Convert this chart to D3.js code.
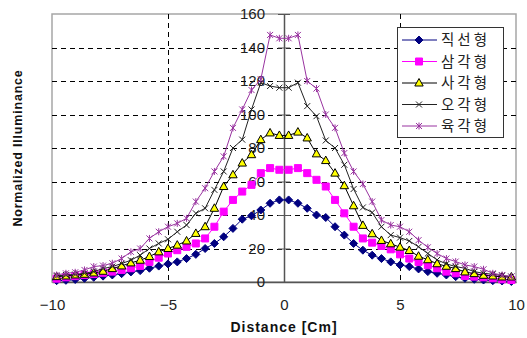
<!DOCTYPE html>
<html>
<head>
<meta charset="utf-8">
<script src="https://cdn.jsdelivr.net/npm/d3@7"></script>
<style>
  body { margin: 0; background: #fff; }
  svg { display: block; }
</style>
</head>
<body>
<svg id="chart" width="527" height="338"></svg>
<script>
// Distance [cm] of every measured point
const distance = [-9.8, -9.4, -9.0, -8.6, -8.2, -7.8, -7.4, -7.0, -6.6, -6.2,
  -5.8, -5.4, -5.0, -4.6, -4.2, -3.8, -3.4, -3.0, -2.6, -2.2,
  -1.8, -1.4, -1.0, -0.6, -0.2, 0.2, 0.6, 1.0, 1.4, 1.8,
  2.2, 2.6, 3.0, 3.4, 3.8, 4.2, 4.6, 5.0, 5.4, 5.8,
  6.2, 6.6, 7.0, 7.4, 7.8, 8.2, 8.6, 9.0, 9.4, 9.8];

const straight = [0.8, 1.0, 1.5, 2.2, 2.8, 3.5, 4.2, 5.0, 6.0, 6.8,
  8.2, 9.5, 10.8, 12, 14, 16.5, 20, 23, 27, 32,
  37.5, 39.5, 43, 47, 49, 49, 47, 44, 40, 38.5,
  33, 28, 23, 19, 16, 14, 12, 10.2, 9.2, 7.8,
  6.2, 5.2, 4.2, 3.2, 2.2, 1.6, 1.2, 0.8, 0.6, 0.3];

const triangle = [2, 2.8, 3.5, 4.2, 4.8, 5.5, 6.2, 7.2, 8.2, 9.6,
  12, 14.5, 17, 19, 21, 23, 26, 33, 42, 49,
  54, 58, 65, 68, 67, 67, 68, 65, 61, 57,
  49, 41, 33, 26, 23.5, 21.5, 19.5, 16.5, 14, 12,
  10, 8.2, 6.2, 5.2, 3.6, 3.2, 2.8, 2.2, 1.6, 1.2];

const square = [3.2, 3.6, 4.2, 4.6, 5.4, 6.4, 8, 9.6, 11.4, 13,
  15.2, 18, 20, 22, 24.5, 29, 33, 44, 57, 64,
  71, 76, 85, 89, 87.5, 87.5, 89.5, 86, 76.5, 72.5,
  65, 57.5, 45.5, 33.8, 28.8, 24.8, 22.8, 20.8, 18.8, 15.4,
  13.3, 10.9, 9.4, 8.0, 6.0, 5.0, 4.0, 3.6, 3.0, 3.0];

const pentagon = [3.6, 4.2, 4.5, 5.2, 6.2, 8, 9.2, 11, 13, 16,
  20, 23, 25.5, 30, 34, 41, 44, 55, 66, 80,
  85, 103, 119, 117, 116, 116, 119, 105, 99, 84.5,
  80, 70, 55.5, 44.5, 41.5, 33, 28, 26.5, 24.5, 21,
  17, 13.2, 10.8, 9.2, 8.2, 6.2, 5.2, 4.6, 3.8, 3.2];

const hexagon = [4.2, 5.2, 5.8, 7.2, 9.2, 9.8, 11.2, 14, 18, 20,
  26, 30, 33, 35, 38, 48, 56, 66, 75, 92,
  103, 114.6, 121, 147.5, 145.5, 145.5, 147.5, 120, 115.5, 100,
  92, 77, 66, 58.5, 48, 37, 34, 33, 30, 25,
  20.7, 17, 14, 12.2, 10.2, 9.2, 7.6, 5.2, 4.2, 3.2];

const seriesNames = ["직선형", "삼각형", "사각형", "오각형", "육각형"];
const xTicks = [-10, -5, 0, 5, 10];
const yTicks = [0, 20, 40, 60, 80, 100, 120, 140, 160];

// marker paths centred on 0,0
const markers = {
  diamond: "M0,-4L4,0L0,4L-4,0Z",
  square: "M-3.5,-3.5H3.5V3.5H-3.5Z",
  triangle: "M0,-4.5L4.2,3L-4.2,3Z",
  cross: "M-3,-3L3,3M-3,3L3,-3",
  star: "M-3,-3L3,3M-3,3L3,-3M0,-3.5V3.5"
};

const series = [
  { name: seriesNames[0], values: straight, line: "#000080", marker: "diamond", fill: "#000080", stroke: "#000080" },
  { name: seriesNames[1], values: triangle, line: "#FF00FF", marker: "square", fill: "#FF00FF", stroke: "#FF00FF" },
  { name: seriesNames[2], values: square, line: "#000000", marker: "triangle", fill: "#FFFF00", stroke: "#000000" },
  { name: seriesNames[3], values: pentagon, line: "#222222", marker: "cross", fill: "none", stroke: "#222222" },
  { name: seriesNames[4], values: hexagon, line: "#9933A0", marker: "star", fill: "none", stroke: "#9933A0" }
];

const svg = d3.select("#chart");
const plotLeft = 52, plotTop = 14, plotRight = 516, plotBottom = 282;

const x = d3.scaleLinear().domain([-10, 10]).range([plotLeft, plotRight]);
const y = d3.scaleLinear().domain([0, 160]).range([plotBottom, plotTop]);

svg.append("rect").attr("width", 527).attr("height", 338).attr("fill", "#fff");

// plot frame (light grey)
svg.append("rect")
  .attr("x", plotLeft).attr("y", plotTop)
  .attr("width", plotRight - plotLeft).attr("height", plotBottom - plotTop)
  .attr("fill", "none").attr("stroke", "#A6A6A6").attr("stroke-width", 1.5);

// dashed grid
const grid = svg.append("g").attr("stroke", "#000").attr("stroke-width", 1)
  .attr("stroke-dasharray", "5,4").attr("shape-rendering", "crispEdges");
grid.selectAll("line.h")
  .data(yTicks.filter(t => t > 0 && t < 160))
  .join("line")
  .attr("class", "h")
  .attr("x1", plotLeft).attr("x2", plotRight)
  .attr("y1", d => Math.round(y(d)) + 0.5).attr("y2", d => Math.round(y(d)) + 0.5);
grid.selectAll("line.v")
  .data(xTicks.filter(t => t !== 0 && Math.abs(t) < 10))
  .join("line")
  .attr("class", "v")
  .attr("y1", plotTop).attr("y2", plotBottom)
  .attr("x1", d => Math.round(x(d)) + 0.5).attr("x2", d => Math.round(x(d)) + 0.5);

// x axis along the bottom, tick labels only
const xAxis = svg.append("g")
  .attr("transform", `translate(0,${plotBottom})`)
  .call(d3.axisBottom(x).tickValues(xTicks).tickSize(0).tickPadding(17));
xAxis.select(".domain").attr("stroke", "#555").attr("stroke-width", 1.5);
xAxis.selectAll("text")
  .attr("font-family", "'Liberation Sans', Arial, sans-serif")
  .attr("font-size", 15).attr("fill", "#222");

// y axis through x = 0
const yAxis = svg.append("g")
  .attr("transform", `translate(${x(0)},0)`)
  .call(d3.axisLeft(y).tickValues(yTicks).tickSizeInner(6).tickSizeOuter(0).tickPadding(13));
yAxis.select(".domain").attr("stroke", "#555").attr("stroke-width", 1.5);
yAxis.selectAll(".tick line").attr("x2", 6).attr("x1", -6).attr("stroke", "#555");
yAxis.selectAll("text")
  .attr("font-family", "'Liberation Sans', Arial, sans-serif")
  .attr("font-size", 15).attr("fill", "#222");

// series lines and markers
const lineGen = d3.line().x((d, i) => x(distance[i])).y(d => y(d));

series.forEach(s => {
  const g = svg.append("g");
  g.append("path")
    .attr("d", lineGen(s.values))
    .attr("fill", "none")
    .attr("stroke", s.line)
    .attr("stroke-width", 1);
  g.selectAll("path.m")
    .data(s.values)
    .join("path")
    .attr("class", "m")
    .attr("transform", (d, i) => `translate(${x(distance[i])},${y(d)})`)
    .attr("d", markers[s.marker])
    .attr("fill", s.fill)
    .attr("stroke", s.stroke)
    .attr("stroke-width", 1);
});

// axis titles
svg.append("text")
  .attr("x", x(0)).attr("y", 332)
  .attr("text-anchor", "middle")
  .attr("font-family", "'Liberation Sans', Arial, sans-serif")
  .attr("font-weight", "bold").attr("font-size", 14)
  .attr("letter-spacing", 1)
  .attr("fill", "#111")
  .text("Distance [Cm]");

svg.append("text")
  .attr("transform", `translate(22,${(plotTop + plotBottom) / 2}) rotate(-90)`)
  .attr("text-anchor", "middle")
  .attr("font-family", "'Liberation Sans', Arial, sans-serif")
  .attr("font-weight", "bold").attr("font-size", 12.5)
  .attr("letter-spacing", 0.8)
  .attr("fill", "#111")
  .text("Normalized Illuminance");

// legend
const legend = svg.append("g").attr("transform", "translate(397,27)");
legend.append("rect")
  .attr("x", 0.5).attr("y", 0.5)
  .attr("width", 106).attr("height", 110)
  .attr("fill", "#fff").attr("stroke", "#333").attr("stroke-width", 1);

const item = legend.selectAll("g.item")
  .data(series)
  .join("g")
  .attr("class", "item")
  .attr("transform", (d, i) => `translate(0,${13 + i * 21.5})`);
item.append("line")
  .attr("x1", 5).attr("x2", 40)
  .attr("stroke", d => d.line).attr("stroke-width", 1);
item.append("path")
  .attr("transform", "translate(22,0)")
  .attr("d", d => markers[d.marker])
  .attr("fill", d => d.fill)
  .attr("stroke", d => d.stroke);
item.append("text")
  .attr("x", 44).attr("dy", "0.36em")
  .attr("font-family", "'Noto Sans CJK KR', sans-serif")
  .attr("font-size", 14.5).attr("letter-spacing", 3)
  .attr("fill", "#222")
  .text(d => d.name);
</script>
</body>
</html>
